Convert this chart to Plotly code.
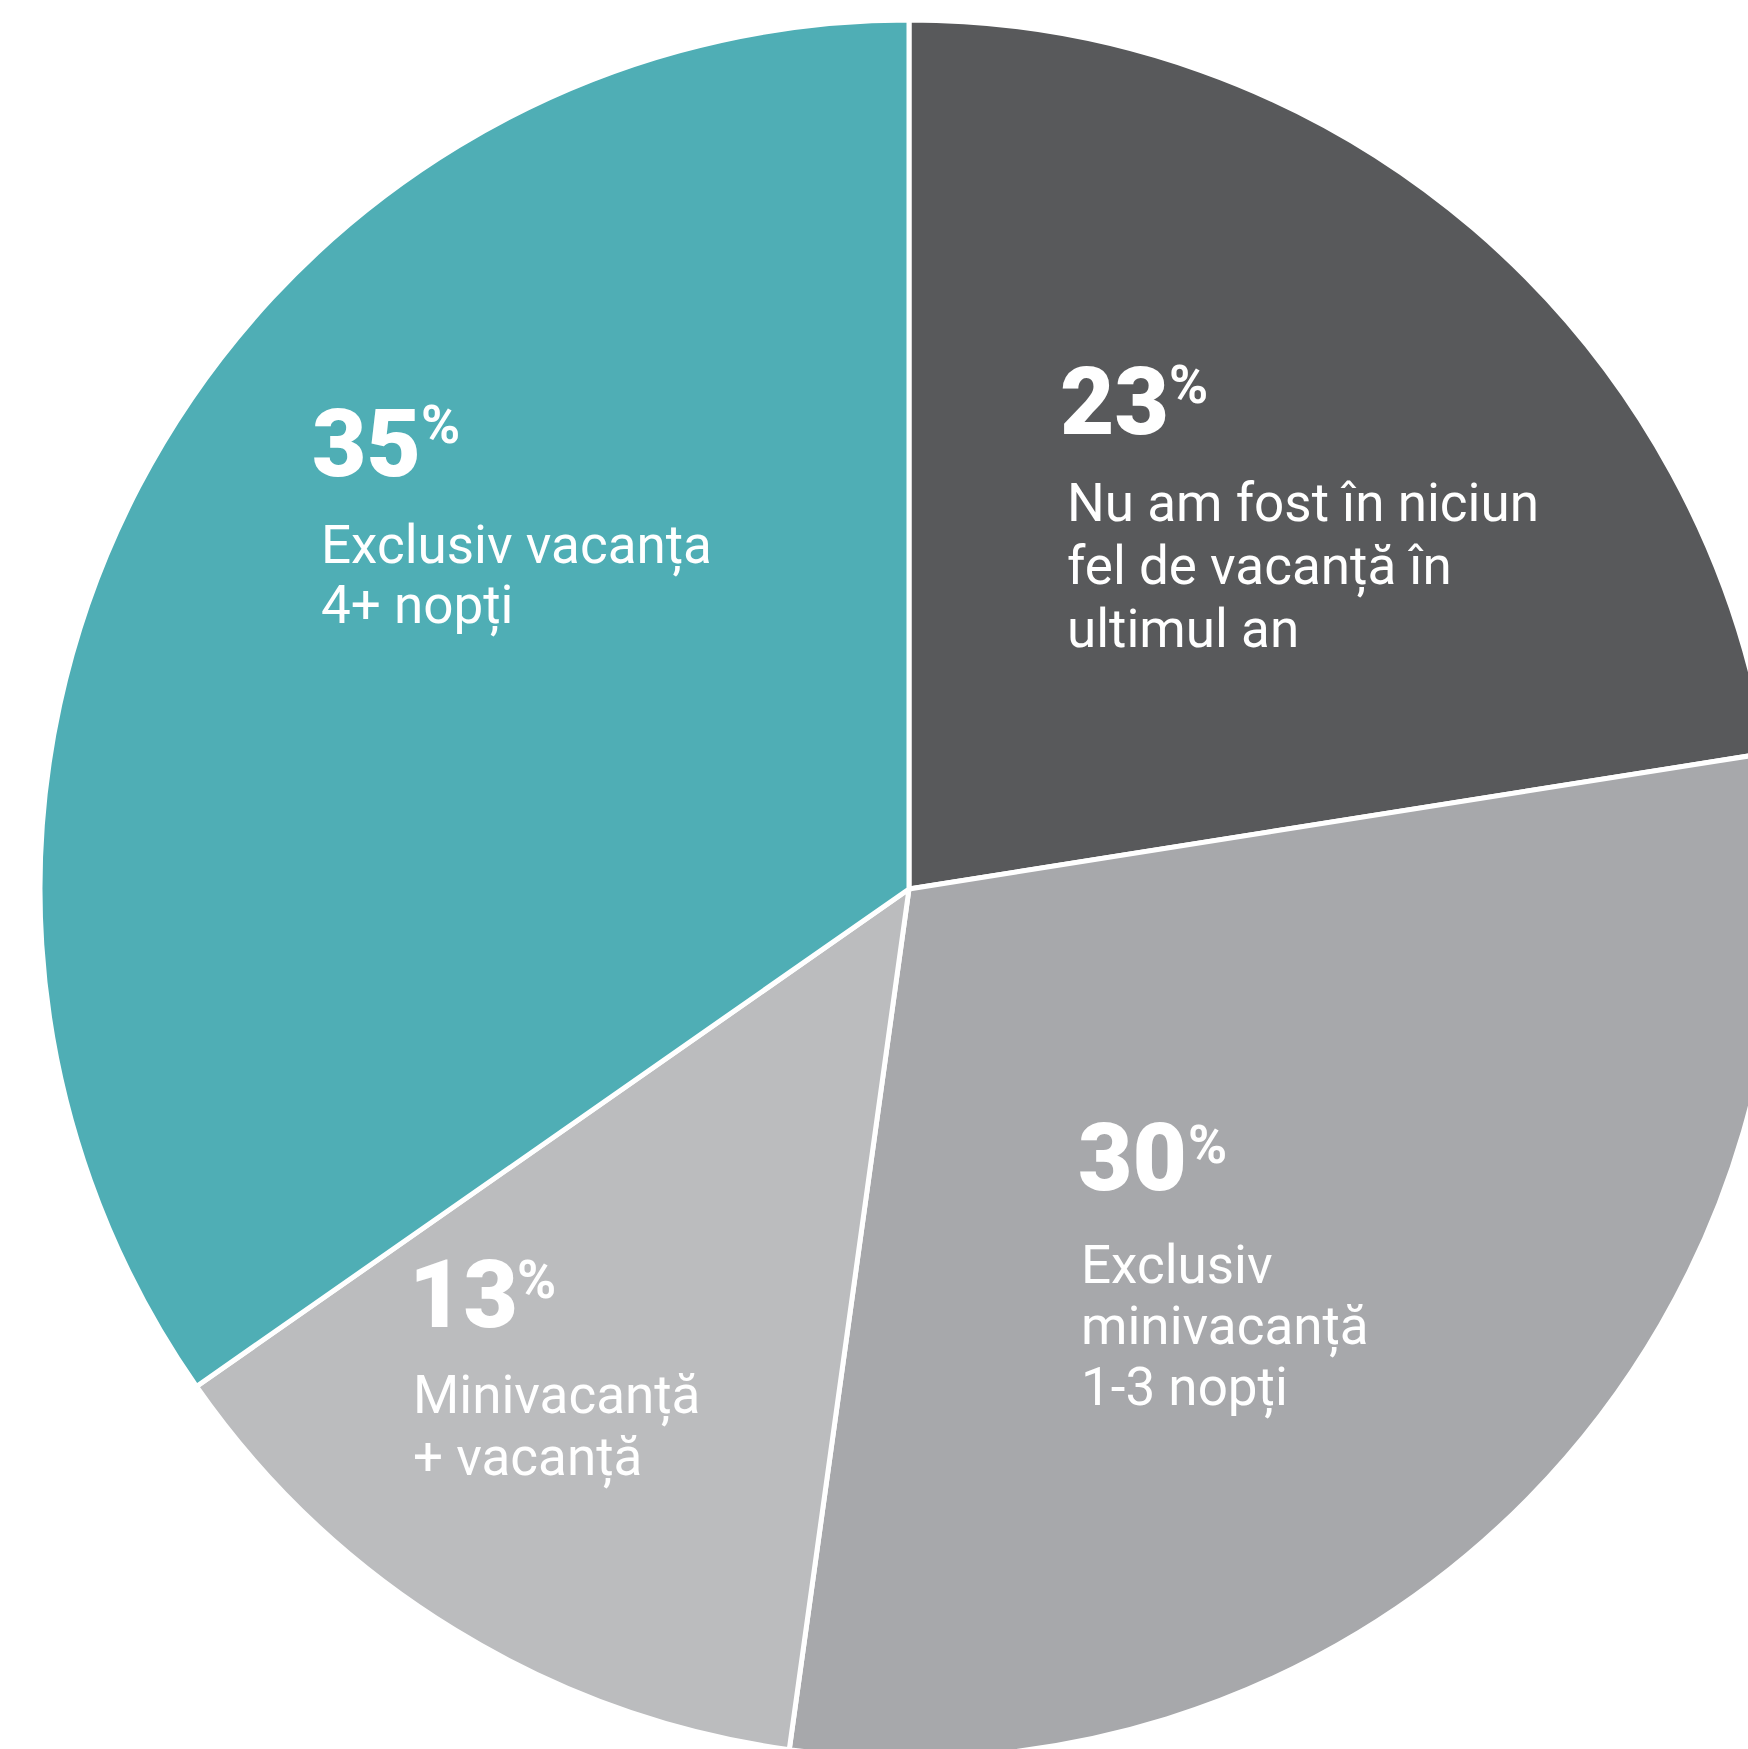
import plotly.graph_objects as go

# ---- data ----
categories = [
    "Nu am fost în niciun fel de vacanță în ultimul an",
    "Exclusiv minivacanță 1-3 nopți",
    "Minivacanță + vacanță",
    "Exclusiv vacanța 4+ nopți",
]
# slice sizes estimated from the drawn angles
values = [22.5, 29.7, 13.1, 34.7]
# percentages as printed on the chart
display_pct = ["23", "30", "13", "35"]
label_lines = [
    ["Nu am fost în niciun", "fel de vacanță în", "ultimul an"],
    ["Exclusiv", "minivacanță", "1-3 nopți"],
    ["Minivacanță", "+ vacanță"],
    ["Exclusiv vacanța", "4+ nopți"],
]
colors = ["#58595b", "#a7a8ab", "#bbbcbe", "#4faeb5"]

# ---- canvas (larger than window: pie is cropped on right & bottom) ----
W, H = 1800, 1780
cx, cy, r = 909, 889, 869

def px(x):
    return x / W

def py(y):
    return 1 - y / H

fig = go.Figure(go.Pie(
    labels=categories,
    values=values,
    sort=False,
    direction="clockwise",
    rotation=0,
    textinfo="none",
    hoverinfo="label+percent",
    marker=dict(colors=colors, line=dict(color="white", width=5)),
    domain=dict(x=[px(cx - r), px(cx + r)], y=[py(cy + r), py(cy - r)]),
    showlegend=False,
))

# label layout (pixels): number left, number cap-middle, % left, % middle,
# desc left, first desc line cap-middle, line step
pos = [
    (1059, 401.5, 1168, 385, 1066, 503, 63),
    (1077, 1157.5, 1187, 1145, 1080, 1265, 61),
    (408, 1295, 516, 1279.5, 412, 1395, 62),
    (311, 443.5, 420, 425.5, 320, 545, 61),
]

annotations = []
for pct, lines, (nx, ny, pxl, pym, dx, dy, step) in zip(display_pct, label_lines, pos):
    annotations.append(dict(
        text=pct, x=px(nx), y=py(ny), xref="paper", yref="paper",
        xanchor="left", yanchor="middle", showarrow=False, borderpad=0,
        font=dict(family="Roboto", size=94, color="white", weight=900),
    ))
    annotations.append(dict(
        text="%", x=px(pxl), y=py(pym), xref="paper", yref="paper",
        xanchor="left", yanchor="middle", showarrow=False, borderpad=0,
        font=dict(family="Roboto", size=53, color="white", weight=700),
    ))
    for i, line in enumerate(lines):
        annotations.append(dict(
            text=line, x=px(dx), y=py(dy + i * step), xref="paper", yref="paper",
            xanchor="left", yanchor="middle", align="left", showarrow=False, borderpad=0,
            font=dict(family="Roboto", size=53, color="white"),
        ))

fig.update_layout(
    width=W, height=H,
    margin=dict(l=0, r=0, t=0, b=0),
    paper_bgcolor="white",
    plot_bgcolor="white",
    annotations=annotations,
)

fig.write_html(
    "out.html",
    config={"displayModeBar": False},
    post_script="document.body.style.margin='0';document.body.style.overflow='hidden';document.documentElement.style.overflow='hidden';",
)
